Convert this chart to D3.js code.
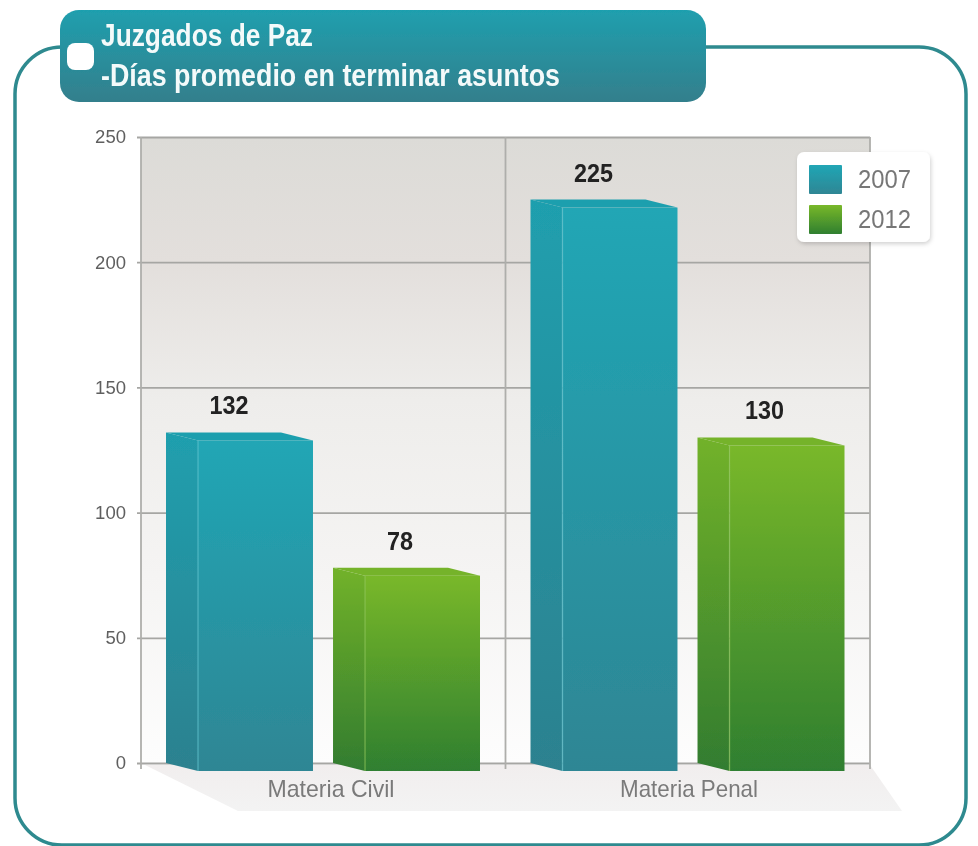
<!DOCTYPE html>
<html><head><meta charset="utf-8">
<script src="https://cdnjs.cloudflare.com/ajax/libs/d3/7.9.0/d3.min.js"></script>
<style>html,body{margin:0;padding:0;background:#fff;overflow:hidden}svg{display:block}
text{font-family:"Liberation Sans",Arial,sans-serif}</style></head>
<body><script>
const categories = ["Materia Civil", "Materia Penal"];
const seriesNames = ["2007", "2012"];
const values2007 = [132, 225];
const values2012 = [78, 130];
const yTicks = [0, 50, 100, 150, 200, 250];
const titleLines = ["Juzgados de Paz", "-Días promedio en terminar asuntos"];

const W = 978, H = 846;
const svg = d3.select("body").append("svg").attr("width", W).attr("height", H);
const defs = svg.append("defs");
function grad(id, stops) {
  const g = defs.append("linearGradient").attr("id", id).attr("x1",0).attr("y1",0).attr("x2",0).attr("y2",1);
  stops.forEach(([o,c]) => g.append("stop").attr("offset", o).attr("stop-color", c));
}
grad("title", [[0,"#1f9fae"],[1,"#337f8c"]]);
grad("panel", [[0,"#dcdbd7"],[0.2,"#e3dfdc"],[0.42,"#eeedeb"],[0.7,"#f5f4f3"],[1,"#fdfdfd"]]);
grad("front2007", [[0,"#20a6b5"],[1,"#2f8694"]]);
grad("side2007", [[0,"#1f9fae"],[1,"#2d818f"]]);
grad("front2012", [[0,"#79b829"],[1,"#2f7f30"]]);
grad("side2012", [[0,"#72b229"],[1,"#327c30"]]);
grad("floor", [[0,"#f1eeee"],[1,"#f3f3f3"]]);
defs.append("filter").attr("id","soft").append("feGaussianBlur").attr("stdDeviation",0.7);
const sh = defs.append("filter").attr("id","shadow").attr("x","-10%").attr("y","-10%").attr("width","120%").attr("height","125%");
sh.append("feDropShadow").attr("dx",1).attr("dy",2).attr("stdDeviation",2).attr("flood-color","#000").attr("flood-opacity",0.18);

const root = svg.append("g").attr("filter","url(#soft)");

// squeezes a text horizontally to a measured width, keeping its height
function fit(sel, cx, w) {
  sel.attr("text-anchor","start").attr("x", cx - w/2).attr("textLength", w).attr("lengthAdjust","spacingAndGlyphs");
}

// outer frame
root.append("rect").attr("x",15).attr("y",47).attr("width",951).attr("height",798).attr("rx",47)
  .attr("fill","#fff").attr("stroke","#2f8a8f").attr("stroke-width",3.5);

// title
root.append("rect").attr("x",60).attr("y",10).attr("width",646).attr("height",92).attr("rx",19).attr("fill","url(#title)");
root.append("rect").attr("x",67).attr("y",43).attr("width",27).attr("height",27).attr("rx",8).attr("fill","#fff");
[[46,212],[86,459]].forEach(([y,len],i) => {
  root.append("text").attr("x",101).attr("y",y).attr("fill","#f4fafa").attr("font-weight",700)
    .attr("font-size",32).attr("textLength",len).attr("lengthAdjust","spacingAndGlyphs").text(titleLines[i]);
});

// scales
const margin = {left:141, right:870, top:137, bottom:763};
const y = d3.scaleLinear().domain([0,250]).range([margin.bottom, margin.top]);
const x0 = d3.scaleBand().domain(categories).range([margin.left, margin.right]);
const x1 = d3.scaleBand().domain(seriesNames).range([25,339]).paddingInner(0.12);
const dx = 32, dy = 8;

// floor shadow
root.append("polygon").attr("fill","url(#floor)").attr("points",[
  [margin.left+4, y(0)+2],[margin.right, y(0)+2],[902,811],[238,811]].join(" "));

// plot background
root.append("rect").attr("x",margin.left).attr("y",margin.top).attr("width",margin.right-margin.left)
  .attr("height",margin.bottom-margin.top).attr("fill","url(#panel)");

// y axis and gridlines
const axis = d3.axisLeft(y).tickValues(yTicks).tickSize(margin.right-margin.left+4).tickPadding(11).tickFormat(d3.format("d"));
const gy = root.append("g").attr("transform",`translate(${margin.right},0)`).call(axis);
gy.select(".domain").remove();
gy.selectAll("line").attr("stroke","#a6a6a3").attr("stroke-width",1.8);
gy.selectAll("text").attr("font-size",18).attr("fill","#5f5f5f").attr("dy","0.33em")
  .attr("textLength", d => String(d).length * 10.3).attr("lengthAdjust","spacingAndGlyphs");

// category separators
[margin.left, x0(categories[1]), margin.right].forEach(xv => {
  root.append("line").attr("x1",xv).attr("x2",xv).attr("y1",margin.top).attr("y2",y(0)+6)
    .attr("stroke","#aeaeab").attr("stroke-width",1.8);
});

// bars
const rows = [];
categories.forEach((c,i) => {
  rows.push({cat:c, s:"2007", si:0, v:values2007[i]});
  rows.push({cat:c, s:"2012", si:1, v:values2012[i]});
});
const bar = root.selectAll("g.bar").data(rows).join("g").attr("class","bar")
  .attr("transform", d => `translate(${x0(d.cat)+x1(d.s)},0)`);
const bw = x1.bandwidth();
bar.append("polygon").attr("fill", d => `url(#side${d.s})`)
  .attr("points", d => [[0,y(d.v)],[dx,y(d.v)+dy],[dx,y(0)+dy],[0,y(0)]].join(" "));
bar.append("rect").attr("x",dx).attr("width",bw-dx).attr("y", d => y(d.v)+dy)
  .attr("height", d => y(0)-y(d.v)).attr("fill", d => `url(#front${d.s})`);
bar.append("polygon").attr("fill", d => d.s==="2007" ? "#1f9fae" : "#74b32a")
  .attr("points", d => [[0,y(d.v)],[bw-dx,y(d.v)],[bw,y(d.v)+dy],[dx,y(d.v)+dy]].join(" "));
bar.append("line").attr("x1",dx).attr("x2",dx).attr("y1", d => y(d.v)+dy).attr("y2",y(0)+dy)
  .attr("stroke", d => d.s==="2007" ? "#63c4ce" : "#8fc45a").attr("stroke-opacity",0.6).attr("stroke-width",1.4);
bar.append("text").attr("y", d => y(d.v)-18).attr("font-weight",700).attr("font-size",26).attr("fill","#222")
  .each(function(d) { fit(d3.select(this), 63 + d.si*4, String(d.v).length * 13); })
  .text(d => d.v);

// category labels
const catCentre = [331, 689], catWidth = [127, 138];
categories.forEach((c,i) => {
  root.append("text").attr("y",797).attr("font-size",24).attr("fill","#7a7a7a")
    .call(fit, catCentre[i], catWidth[i]).text(c);
});

// legend
const lg = root.append("g");
lg.append("rect").attr("x",797).attr("y",152).attr("width",133).attr("height",90).attr("rx",7)
  .attr("fill","#fff").attr("filter","url(#shadow)");
seriesNames.forEach((s,i) => {
  const top = 165 + i*40;
  lg.append("rect").attr("x",809).attr("y",top).attr("width",33).attr("height",29).attr("rx",1).attr("fill",`url(#front${s})`);
  lg.append("text").attr("x",858).attr("y",top+23).attr("font-size",26).attr("fill","#777")
    .attr("textLength",53).attr("lengthAdjust","spacingAndGlyphs").text(s);
});
</script></body></html>
